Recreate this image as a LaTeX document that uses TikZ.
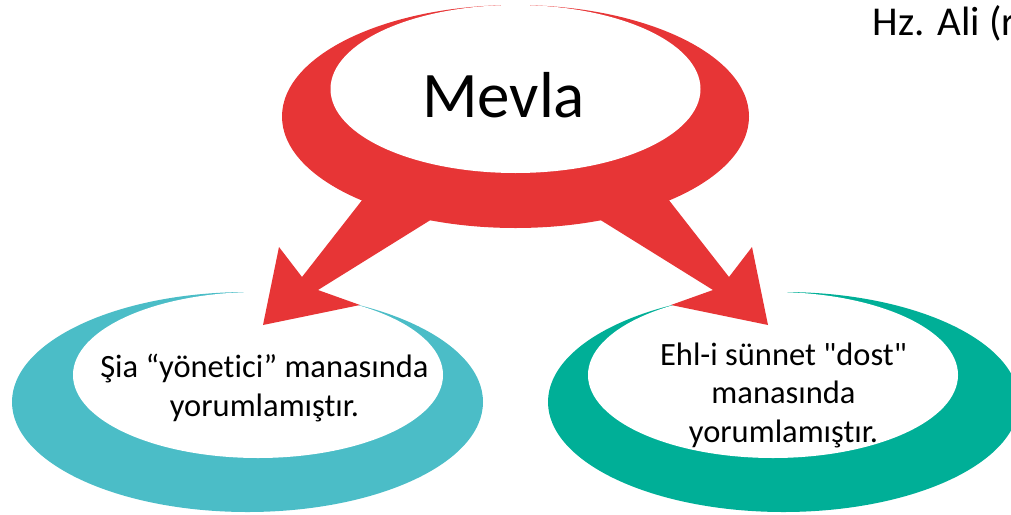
\documentclass[tikz,border=0pt]{standalone}
\usepackage{fontspec}
\setmainfont{Carlito}[Ligatures={NoCommon,TeXOff}]
\usepackage{tikz}
\definecolor{mevlared}{HTML}{E73536}
\definecolor{siablue}{HTML}{4BBDC7}
\definecolor{sunnigreen}{HTML}{00AF97}
\tikzset{
  ringtext/.style={align=center, inner sep=0.75pt, font=\fontsize{32.5}{38.5}\selectfont}
}

\begin{document}
\begin{tikzpicture}[x=1pt,y=1pt,yscale=-1,xscale=1]
\useasboundingbox (0,0) rectangle (1011,514);
%Left ring
\fill[siablue] (247.5,402) ellipse [x radius=235.5, y radius=110];
\fill[white] (258,375) ellipse [x radius=185, y radius=83];
%Right ring
\fill[sunnigreen] (783.5,402) ellipse [x radius=235.5, y radius=110];
\fill[white] (773,375) ellipse [x radius=185, y radius=83];
%Top ring and arrows
\fill[mevlared] (515.5,116.5) ellipse [x radius=233.5, y radius=111.5];
\fill[mevlared] (370,190) -- (302,277) -- (279,247) -- (263,325) -- (360,305) -- (318,290) -- (445,211) -- cycle;
\fill[mevlared] (661,190) -- (729,277) -- (752,247) -- (768,325) -- (671,305) -- (713,290) -- (586,211) -- cycle;
\fill[white] (515.5,89) ellipse [x radius=185, y radius=84];
%Text
\node (mevla) [anchor=base, inner sep=0.75pt, font=\fontsize{65}{78}\selectfont] at (503.5,117) {Mevla};
\node (sia) [ringtext] at (264.5,388) {Şia “yönetici” manasında\\yorumlamıştır.};
\node (sunni) [ringtext] at (783.5,395) {Ehl-i sünnet "dost"\\manasında\\yorumlamıştır.};
\node (ali) [anchor=base west, inner sep=0.75pt, font=\fontsize{41}{48}\selectfont] at (872,35) {Hz. Ali (r};
\end{tikzpicture}
\end{document}
